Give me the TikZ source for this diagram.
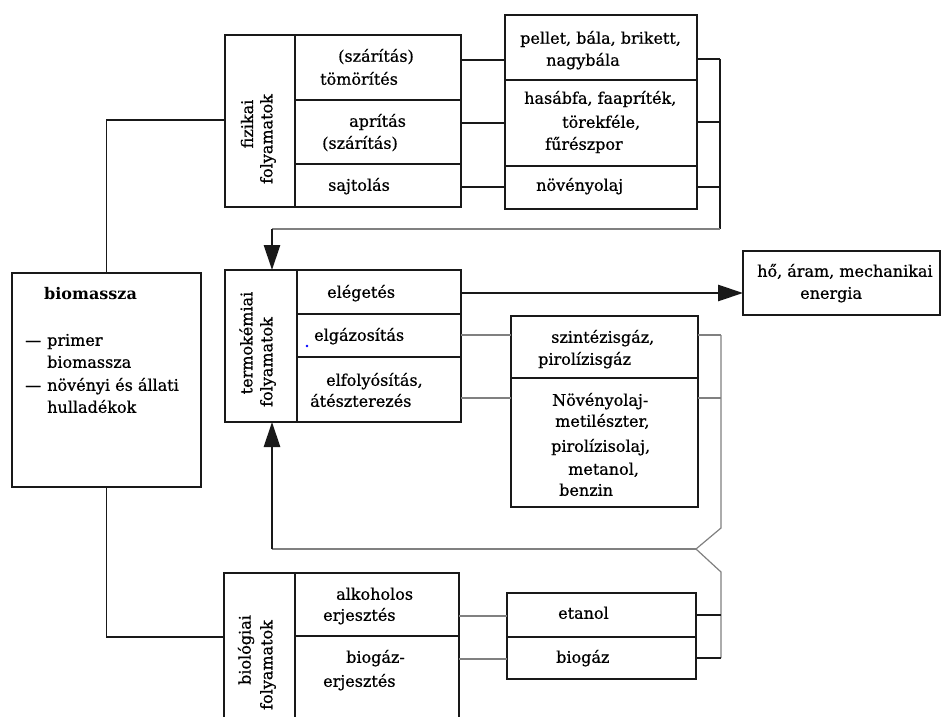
\documentclass[tikz,border=0pt]{standalone}
\usepackage{fontspec}
\setmainfont{DejaVu Serif}[FakeBold=0.7]
\newfontfamily\bmbold{DejaVu Serif Bold}
\usetikzlibrary{arrows.meta}
\definecolor{ink}{gray}{0.1}
\definecolor{lgray}{gray}{0.5}
\begin{document}
\begin{tikzpicture}[x=1pt,y=-1pt,
  cell/.style={draw=ink, line width=1.4pt, inner sep=0pt, outer sep=0pt},
  lbl/.style={anchor=west, inner sep=0pt, font=\fontsize{16}{19}\selectfont, text height=11pt, text depth=3.5pt, text=black},
  vlbl/.style={rotate=90, inner sep=0pt, font=\fontsize{16}{19}\selectfont, text=black},
  conn/.style={draw=ink, line width=1.3pt},
  gconn/.style={draw=lgray, line width=1.2pt},
  bigarrow/.style={draw=ink, line width=2.8pt, -{Triangle[length=25pt,width=16pt]}}]
\useasboundingbox (0,0) rectangle (942,717);
\clip (0,0) rectangle (942,717);
\fill[white] (0,0) rectangle (942,717);

% biomassza
\node[cell, minimum width=189pt, minimum height=214pt] (BM) at (106.5,380) {};
\node[lbl, font=\fontsize{16}{19}\bmbold] (bmT) at (44,296) {biomassza};
\node[lbl] (bmD1) at (25,342) {—};
\node[lbl] (bmL1) at (47,342) {primer};
\node[lbl] (bmL2) at (47,364) {biomassza};
\node[lbl] (bmD2) at (25,387) {—};
\node[lbl] (bmL3) at (47,387) {növényi és állati};
\node[lbl] (bmL4) at (47,409) {hulladékok};

% fizikai folyamatok
\node[cell, minimum width=70pt, minimum height=172pt] (F0) at (260,121) {};
\node[cell, minimum width=166pt, minimum height=65pt] (F1) at (378,67.5) {};
\node[cell, minimum width=166pt, minimum height=64pt] (F2) at (378,132) {};
\node[cell, minimum width=166pt, minimum height=43pt] (F3) at (378,185.5) {};
\node[vlbl] (fv1) at (247,124) {fizikai};
\node[vlbl] (fv2) at (268,139) {folyamatok};
\node[lbl] (f1a) at (338,58) {(szárítás)};
\node[lbl] (f1b) at (320,81) {tömörítés};
\node[lbl] (f2a) at (349,123) {aprítás};
\node[lbl] (f2b) at (322,145) {(szárítás)};
\node[lbl] (f3a) at (328,187) {sajtolás};

% products
\node[cell, minimum width=192pt, minimum height=65pt] (P1) at (601,47.5) {};
\node[cell, minimum width=192pt, minimum height=86pt] (P2) at (601,123) {};
\node[cell, minimum width=192pt, minimum height=43pt] (P3) at (601,187.5) {};
\node[lbl] (p1a) at (520,40) {pellet, bála, brikett,};
\node[lbl] (p1b) at (546,62) {nagybála};
\node[lbl] (p2a) at (524,100) {hasábfa, faapríték,};
\node[lbl] (p2b) at (562,124) {törekféle,};
\node[lbl] (p2c) at (545,146) {fűrészpor};
\node[lbl] (p3a) at (536,187) {növényolaj};

% termokémiai folyamatok
\node[cell, minimum width=72pt, minimum height=152pt] (T0) at (261,346) {};
\node[cell, minimum width=164pt, minimum height=44pt] (T1) at (379,292) {};
\node[cell, minimum width=164pt, minimum height=43pt] (T2) at (379,335.5) {};
\node[cell, minimum width=164pt, minimum height=65pt] (T3) at (379,389.5) {};
\node[vlbl] (tv1) at (246,343) {termokémiai};
\node[vlbl] (tv2) at (268,362) {folyamatok};
\node[lbl] (t1a) at (327,294) {elégetés};
\node[lbl] (t2a) at (314,337) {elgázosítás};
\node[lbl] (t3a) at (326,382) {elfolyósítás,};
\node[lbl] (t3b) at (310,403) {átészterezés};
\fill[blue] (307,346) circle (1.4pt);

% energia
\node[cell, minimum width=197pt, minimum height=64pt] (E) at (841.5,283) {};
\node[lbl] (e1) at (757,273) {hő, áram, mechanikai};
\node[lbl] (e2) at (800,295) {energia};

% gases / liquids
\node[cell, minimum width=187pt, minimum height=62pt] (S1) at (604.5,347) {};
\node[cell, minimum width=187pt, minimum height=129pt] (S2) at (604.5,442.5) {};
\node[lbl] (s1a) at (551,339) {szintézisgáz,};
\node[lbl] (s1b) at (538,361) {pirolízisgáz};
\node[lbl] (s2a) at (552,402) {Növényolaj-};
\node[lbl] (s2b) at (555,423) {metilészter,};
\node[lbl] (s2c) at (551,448) {pirolízisolaj,};
\node[lbl] (s2d) at (568,471) {metanol,};
\node[lbl] (s2e) at (559,492) {benzin};

% biológiai folyamatok
\node[cell, minimum width=71pt, minimum height=154pt] (B0) at (259.5,650) {};
\node[cell, minimum width=164pt, minimum height=63pt] (B1) at (377,604.5) {};
\node[cell, minimum width=164pt, minimum height=91pt] (B2) at (377,681.5) {};
\node[vlbl] (bv1) at (246,650) {biológiai};
\node[vlbl] (bv2) at (268,665) {folyamatok};
\node[lbl] (b1a) at (336,596) {alkoholos};
\node[lbl] (b1b) at (323,617) {erjesztés};
\node[lbl] (b2a) at (346,659) {biogáz-};
\node[lbl] (b2b) at (323,683) {erjesztés};

\node[cell, minimum width=189pt, minimum height=44pt] (Et1) at (601.5,615) {};
\node[cell, minimum width=189pt, minimum height=42pt] (Et2) at (601.5,658) {};
\node[lbl] (et1) at (558,615) {etanol};
\node[lbl] (et2) at (556,659) {biogáz};

% connectors: biomassza
\draw[conn] (BM.north) -- (BM.north |- 0,120) -- (F0.west |- 0,120);
\draw[conn] (BM.south) -- (BM.south |- 0,637) -- (B0.west |- 0,637);

% fizikai -> products
\draw[conn] (F1.east |- 0,60) -- (P1.west |- 0,60);
\draw[conn] (F2.east |- 0,123) -- (P2.west |- 0,123);
\draw[conn] (F3.east |- 0,187) -- (P3.west |- 0,187);

% products -> termokémiai
\coordinate (rA) at (720,229);
\draw[conn] (P1.east |- 0,59) -- (720,59);
\draw[conn] (P2.east |- 0,122) -- (720,122);
\draw[conn] (P3.east |- 0,187) -- (720,187);
\draw[conn] (720,59) -- (rA);
\draw[gconn] (rA) -- (272,229);
\draw[bigarrow] (272,229) -- (T0.north -| 272,0);

% elégetés -> energia
\draw[bigarrow] (T1.east |- 0,293) -- (E.west |- 0,293);

% termokémiai -> gases
\draw[gconn] (T2.east |- 0,335) -- (S1.west |- 0,335);
\draw[gconn] (T3.east |- 0,398) -- (S2.west |- 0,398);
\draw[gconn] (S1.east |- 0,335) -- (721,335);
\draw[gconn] (S2.east |- 0,398) -- (721,398);
\coordinate (kink) at (696,549);
\draw[gconn] (721,335) -- (721,528) -- (kink) -- (721,572) -- (721,658);

% biológiai -> etanol/biogáz
\draw[gconn] (B1.east |- 0,616) -- (Et1.west |- 0,616);
\draw[gconn] (B2.east |- 0,659) -- (Et2.west |- 0,659);
\draw[conn] (Et1.east |- 0,615) -- (721,615);
\draw[conn] (Et2.east |- 0,658) -- (721,658);

% feedback to termokémiai
\draw[gconn] (kink) -- (272,549);
\draw[bigarrow] (272,549) -- (T0.south -| 272,0);
\end{tikzpicture}
\end{document}
